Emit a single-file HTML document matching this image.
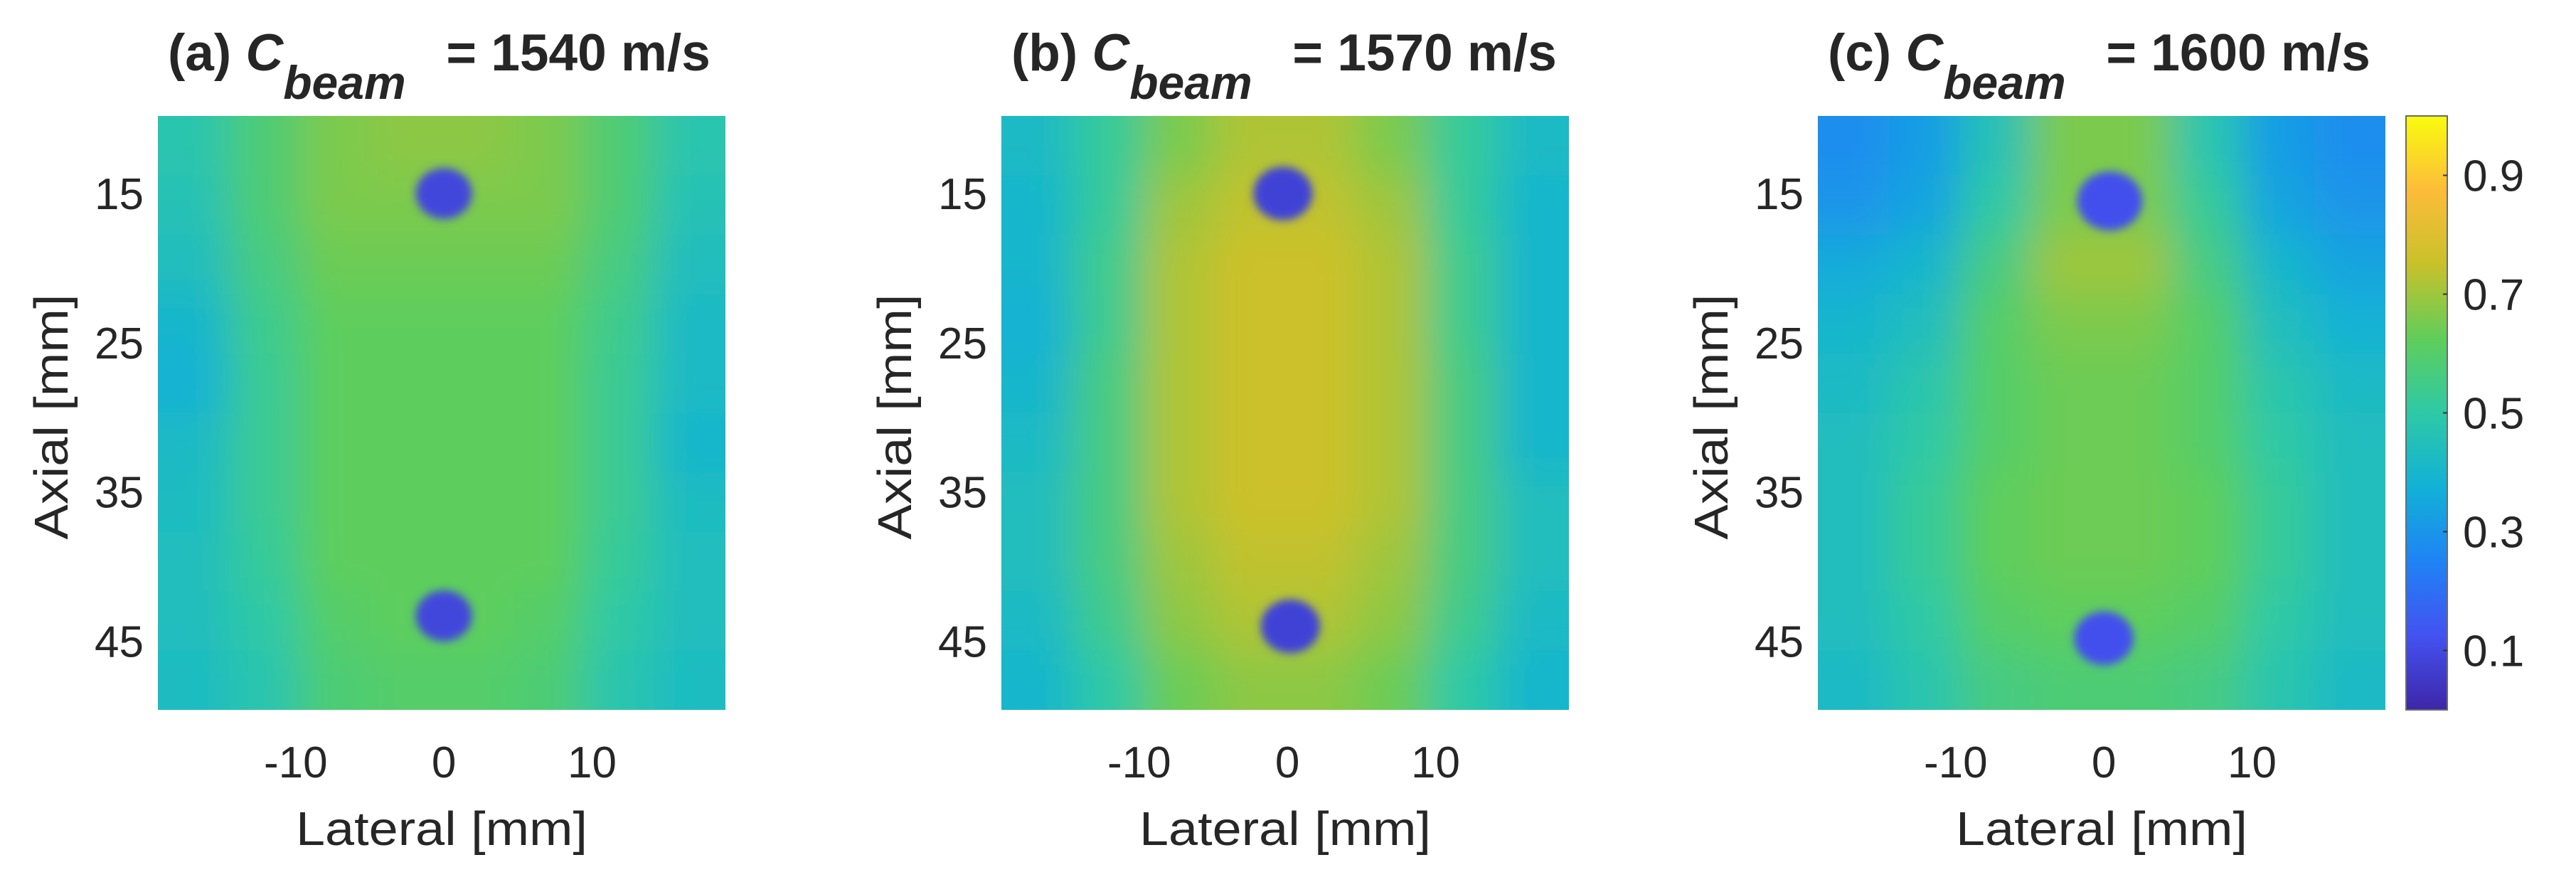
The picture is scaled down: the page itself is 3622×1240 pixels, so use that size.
<!DOCTYPE html>
<html><head><meta charset="utf-8"><style>
html,body{margin:0;padding:0;background:#fff;}
svg{display:block;}
text{font-family:"Liberation Sans",Arial,sans-serif;fill:#262626;}
</style></head><body>
<svg id="fig" width="3622" height="1240" viewBox="0 0 3622 1240" xmlns="http://www.w3.org/2000/svg">
<defs>
<filter id="blur" x="-200" y="-200" width="4000" height="1600" filterUnits="userSpaceOnUse">
<feGaussianBlur stdDeviation="30"/>
</filter>
<filter id="blur2" x="-200" y="-200" width="4000" height="1600" filterUnits="userSpaceOnUse">
<feGaussianBlur stdDeviation="6"/>
</filter>
<linearGradient id="parula" x1="0" y1="1" x2="0" y2="0">
<stop offset="0" stop-color="#3e26a8"/>
<stop offset="0.125" stop-color="#4352f0"/>
<stop offset="0.25" stop-color="#1f83f5"/>
<stop offset="0.375" stop-color="#12b1d6"/>
<stop offset="0.5" stop-color="#2ec9a6"/>
<stop offset="0.625" stop-color="#5fce5a"/>
<stop offset="0.75" stop-color="#c8c12a"/>
<stop offset="0.875" stop-color="#fdbc3a"/>
<stop offset="1" stop-color="#f9fb0e"/>
</linearGradient>
</defs>
</svg>
<script>
// ---- data ----
const xTicks = [-10, 0, 10];
const yTicks = [15, 25, 35, 45];
const cbTicks = [0.1, 0.3, 0.5, 0.7, 0.9];
const panelTitles = ["(a)", "(b)", "(c)"];
const panelSpeeds = ["1540", "1570", "1600"];
// mean normalized intensity grid (10 rows x 8 cols), rows top->bottom
const gridA = [
[.48,.58,.66,.68,.68,.66,.58,.48],
[.46,.58,.66,.66,.66,.66,.58,.46],
[.44,.56,.64,.64,.64,.64,.56,.44],
[.40,.54,.62,.62,.62,.62,.54,.42],
[.38,.53,.62,.62,.62,.62,.53,.42],
[.42,.53,.62,.62,.62,.62,.53,.40],
[.43,.53,.62,.62,.62,.62,.53,.43],
[.44,.52,.62,.62,.62,.62,.52,.44],
[.44,.50,.60,.62,.62,.60,.50,.44],
[.43,.48,.58,.60,.60,.58,.48,.43]];
const gridB = [
[.42,.52,.66,.72,.72,.66,.52,.42],
[.40,.52,.70,.74,.74,.70,.52,.40],
[.40,.54,.72,.76,.76,.72,.54,.40],
[.38,.54,.72,.76,.76,.72,.54,.40],
[.40,.56,.72,.76,.76,.72,.56,.40],
[.42,.56,.72,.76,.76,.72,.56,.40],
[.44,.56,.72,.76,.76,.72,.56,.44],
[.44,.56,.70,.74,.74,.70,.56,.44],
[.42,.54,.68,.72,.72,.68,.54,.42],
[.40,.50,.64,.68,.68,.64,.50,.40]];
const gridC = [
[.28,.32,.46,.66,.66,.48,.32,.28],
[.30,.34,.50,.66,.66,.52,.34,.30],
[.36,.40,.56,.70,.70,.56,.40,.34],
[.40,.44,.60,.66,.66,.60,.44,.38],
[.42,.48,.60,.64,.64,.60,.48,.42],
[.44,.50,.60,.64,.64,.60,.50,.44],
[.44,.52,.62,.64,.64,.62,.52,.44],
[.44,.52,.62,.64,.64,.62,.52,.44],
[.44,.50,.60,.62,.62,.60,.50,.44],
[.42,.48,.56,.58,.58,.56,.48,.42]];
// cysts: lateral mm, axial mm, radius mm
const cystX = [[0.0,0.0],[-0.3,0.2],[0.4,0.0]];
const cystY = [[15.0,43.3],[15.0,44.0],[15.5,44.8]];
const cystR = [[1.9,1.9],[2.0,2.0],[2.2,2.0]];
const cystV = [0.09, 0.08, 0.12];

// ---- layout ----
const svg = document.getElementById('fig');
const NS = 'http://www.w3.org/2000/svg';
const panelLeft = [222, 1408, 2556];
const panelW = 798, top0 = 163, bottom0 = 998;
const xMin = -19.3, xMax = 19.0, yMin = 9.8, yMax = 49.6;
const grids = [gridA, gridB, gridC];
const PAD = 120;

function parula(v){
  const st=[[62,38,168],[67,82,240],[31,131,245],[18,177,214],[46,201,166],[95,206,90],[200,193,42],[253,188,58],[249,251,14]];
  v=Math.max(0,Math.min(1,v))*8; const i=Math.min(7,Math.floor(v)); const f=v-i;
  const c=st[i].map((a,k)=>Math.round(a+(st[i+1][k]-a)*f));
  return 'rgb('+c.join(',')+')';
}
function mk(tag, attrs, parent){
  const e=document.createElementNS(NS,tag);
  for(const k in attrs) e.setAttribute(k,attrs[k]);
  (parent||svg).appendChild(e); return e;
}

for(let p=0;p<3;p++){
  const L=panelLeft[p];
  const sx=v=>L+(v-xMin)/(xMax-xMin)*panelW;
  const sy=v=>top0+(v-yMin)/(yMax-yMin)*(bottom0-top0);
  const g=mk('g',{});
  
  
  const clip=mk('clipPath',{id:'clip'+p},svg.querySelector('defs'));
  mk('rect',{x:L,y:top0,width:panelW,height:bottom0-top0},clip);
  const outer=mk('g',{'clip-path':'url(#clip'+p+')'},g);
  const hm=mk('g',{filter:'url(#blur)'},outer);
  
  
  const grid=grids[p]; const nr=grid.length, nc=grid[0].length;
  const cw=(xMax-xMin)/nc, ch=(yMax-yMin)/nr;
  for(let r=0;r<nr;r++) for(let c=0;c<nc;c++){
    let x0=sx(xMin+c*cw), y0=sy(yMin+r*ch);
    let x1=sx(xMin+(c+1)*cw)+0.5, y1=sy(yMin+(r+1)*ch)+0.5;
    if(c===0) x0-=PAD; if(c===nc-1) x1+=PAD;
    if(r===0) y0-=PAD; if(r===nr-1) y1+=PAD;
    const cell=mk('rect',{x:x0,y:y0,width:x1-x0,height:y1-y0,fill:parula(grid[r][c])},hm);
    
    
  }
  const cg=mk('g',{filter:'url(#blur2)'},outer);
  for(let k=0;k<cystX[p].length;k++){
    const cy=mk('ellipse',{cx:sx(cystX[p][k]),cy:sy(cystY[p][k]),rx:sx(cystR[p][k])-sx(0),ry:sy(yMin+cystR[p][k]*0.9)-sy(yMin),fill:parula(cystV[p])},cg);
    
    
  }
  xTicks.forEach(t=>{
    const e=mk('text',{x:sx(t),y:1093,'font-size':62,'text-anchor':'middle'},g);
    e.textContent=t<0?'-'+Math.abs(t):String(t);
    
    
  });
  yTicks.forEach(t=>{
    const e=mk('text',{x:L-20,y:sy(t)+22,'font-size':62,'text-anchor':'end'},g);
    e.textContent=String(t);
    
    
  });
  const xl=mk('text',{x:L+panelW/2,y:1188,'font-size':67,'text-anchor':'middle',textLength:410,lengthAdjust:'spacingAndGlyphs'},g);
  xl.textContent='Lateral [mm]';
  
  
  const yl=mk('text',{x:0,y:0,'font-size':67,'text-anchor':'middle',textLength:345,lengthAdjust:'spacingAndGlyphs',transform:'translate('+(L-127)+',586) rotate(-90)'},g);
  yl.textContent='Axial [mm]';
  
  
  const cx=L+panelW/2-10;
  const tt=mk('text',{x:cx-375,y:99,'font-size':73,'font-weight':'bold',fill:'#000'},g);
  
  
  const s1=mk('tspan',{},tt); s1.textContent=panelTitles[p]+' ';
  const s2=mk('tspan',{'font-style':'italic'},tt); s2.textContent='C';
  const s3=mk('tspan',{'font-style':'italic',dy:40,'font-size':66},tt); s3.textContent='beam';
  const s4=mk('tspan',{dy:-40},tt); s4.textContent='\u2002 = '+panelSpeeds[p]+' m/s';
}
// colorbar
const cbX=3383, cbW=58, cbTop=163, cbBot=998;
const cbg=mk('g',{});


mk('rect',{x:cbX,y:cbTop,width:cbW,height:cbBot-cbTop,fill:'url(#parula)',stroke:'#6b6b6b','stroke-width':2},cbg);
const cy=v=>cbBot-v*(cbBot-cbTop);
cbTicks.forEach(t=>{
  mk('line',{x1:cbX+cbW-6,x2:cbX+cbW,y1:cy(t),y2:cy(t),stroke:'#333','stroke-width':2},cbg);
  const e=mk('text',{x:3463,y:cy(t)+22,'font-size':62},cbg);
  e.textContent=t.toFixed(1);
  
  
});
</script>
</body></html>
